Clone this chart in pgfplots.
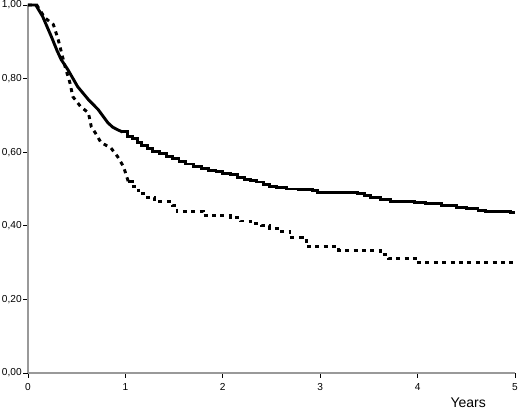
\documentclass[border=0pt]{standalone}
\usepackage{fontspec}
\setmainfont{Liberation Sans}
\usepackage{pgfplots}
\pgfplotsset{compat=1.18}
\begin{document}
\begin{tikzpicture}
\useasboundingbox (-21pt,-28.5pt) rectangle (369pt,279.75pt);
\begin{axis}[
 at={(0,0)}, anchor=south west,
 scale only axis, width=365.25pt, height=276pt,
 xmin=0, xmax=5, ymin=0, ymax=1,
 axis x line*=bottom, axis y line*=left,
 axis line style={draw=gray!80, line width=0.8pt},
 xtick={0,1,2,3,4,5},
 ytick={0,0.2,0.4,0.6,0.8,1},
 yticklabels={{0,00},{0,20},{0,40},{0,60},{0,80},{1,00}},
 tick style={black, line width=0.6pt},
 tick align=outside, major tick length=3.5pt,
 ticklabel style={font=\fontsize{7.6}{9}\selectfont},
 xticklabel style={yshift=-0.5pt},
 yticklabel style={xshift=2.3pt},
 /pgf/number format/assume math mode=true,
 clip=false,
]
% solid: dense early part (traced), then steps
\addplot[sharp plot, black, line width=2.2pt, line join=round] coordinates {
(0,1.0) (0.08,1.0) (0.15,0.969) (0.24,0.914) (0.30,0.875) (0.34,0.852)
(0.41,0.824) (0.51,0.778) (0.62,0.743) (0.72,0.716) (0.82,0.680)
(0.87,0.668) (0.92,0.661) (0.97,0.655)
};
\addplot[const plot, black, line width=2.2pt] coordinates {
(0.97,0.655) (1.02,0.643) (1.07,0.637) (1.12,0.627)
(1.17,0.619) (1.23,0.611) (1.28,0.603) (1.35,0.596) (1.42,0.589) (1.48,0.583)
(1.55,0.576) (1.62,0.568) (1.70,0.561) (1.78,0.555) (1.85,0.551) (1.93,0.547)
(2.00,0.543) (2.08,0.539) (2.15,0.531) (2.22,0.527) (2.28,0.523) (2.35,0.519)
(2.42,0.513) (2.48,0.507) (2.55,0.503) (2.65,0.500) (2.78,0.498) (2.92,0.495)
(2.97,0.490) (3.38,0.487) (3.45,0.482) (3.52,0.476) (3.62,0.471) (3.72,0.467)
(3.85,0.465) (3.97,0.463) (4.08,0.460) (4.25,0.455) (4.40,0.451) (4.50,0.446)
(4.62,0.441) (4.70,0.439) (4.95,0.435) (5.0,0.435)
};
% dashed: dense early part (traced), then steps
\addplot[sharp plot, black, line width=2.2pt, dash pattern=on 3pt off 3.3pt] coordinates {
(0,1.0) (0.09,1.0) (0.17,0.966) (0.26,0.947) (0.31,0.906) (0.38,0.833)
(0.43,0.789) (0.46,0.751) (0.54,0.724) (0.62,0.707) (0.65,0.669)
(0.69,0.653) (0.75,0.626) (0.85,0.612) (0.92,0.588) (0.98,0.561) (1.03,0.520)
};
\addplot[const plot, black, line width=2.2pt, dash pattern=on 3pt off 3.3pt] coordinates {
(1.03,0.520) (1.07,0.508) (1.13,0.495) (1.18,0.487) (1.23,0.476) (1.30,0.465) (1.48,0.455)
(1.53,0.44) (1.80,0.428) (2.08,0.422) (2.18,0.413) (2.28,0.405) (2.40,0.400)
(2.48,0.393) (2.60,0.385) (2.69,0.367) (2.82,0.360) (2.86,0.343) (3.19,0.333)
(3.62,0.321) (3.70,0.312) (3.98,0.300) (5.0,0.300)
};
\node[anchor=base, font=\fontsize{10.5}{12}\selectfont] at (axis cs:4.52,0) [yshift=-26pt] {Years};
\end{axis}
\end{tikzpicture}
\end{document}
